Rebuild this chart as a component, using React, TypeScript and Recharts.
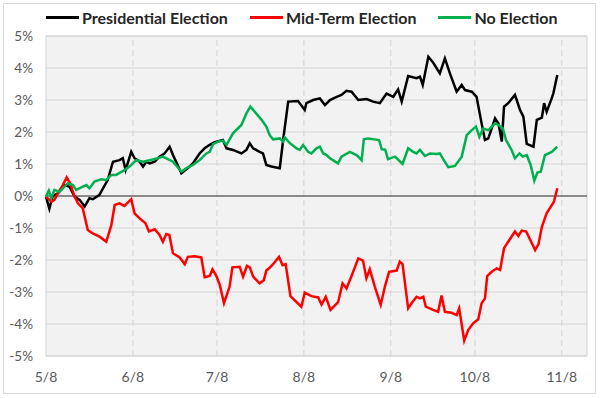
import { LineChart, Line, XAxis, YAxis, ReferenceLine, ReferenceArea } from "recharts";

// x = calendar days after 5/8, y = cumulative return in %
const presDays = [0, 1.2, 2.4, 4.2, 6.6, 8.4, 10.2, 12, 13.8, 15.5, 16.7, 19, 22, 23.9, 26.2, 27.4, 28.4, 30.4, 31.6, 33.4, 34.6, 35.8, 37, 38.8, 40.5, 42.3, 44.1, 45.3, 48.3, 50.6, 52.4, 54.8, 56.6, 58.4, 60.2, 63.1, 64.4, 66.7, 69.7, 71.5, 72.7, 73.9, 76.2, 77.4, 78.6, 80.4, 83.4, 84.6, 86.4, 89.9, 92.3, 92.9, 95.3, 97.7, 99.5, 101.3, 103.7, 105.4, 107.2, 109, 111.4, 114.4, 116.7, 119.1, 121.5, 123.9, 125.6, 126.9, 129.2, 132.2, 133.4, 134.4, 136.4, 138.1, 140.5, 142.3, 144.1, 146.5, 148.3, 149.5, 151.9, 153.6, 155.4, 156.6, 157.8, 160.2, 161.4, 162.6, 163.4, 164.9, 167.3, 169.1, 170.3, 171.5, 173.9, 175.1, 176.9, 177.7, 178.6, 180.4, 181, 182.4];
const presVals = [-0.02, -0.4, 0, 0.08, 0.34, 0.29, -0.02, -0.12, -0.33, -0.07, -0.1, 0.03, 0.5, 1.07, 1.12, 1.18, 0.81, 1.38, 1.18, 1.07, 0.92, 1.07, 1.02, 1.07, 1.23, 1.33, 1.54, 1.28, 0.71, 0.87, 1.02, 1.33, 1.49, 1.6, 1.68, 1.75, 1.49, 1.44, 1.33, 1.44, 1.65, 1.49, 1.38, 1.33, 0.97, 0.92, 0.87, 1.75, 2.95, 2.97, 2.69, 2.9, 3.0, 3.05, 2.84, 3.0, 3.1, 3.16, 3.29, 3.26, 3.0, 3.03, 2.95, 2.9, 3.2, 3.1, 3.33, 2.95, 3.75, 3.68, 3.73, 3.47, 4.35, 4.17, 3.83, 4.3, 3.83, 3.26, 3.47, 3.31, 3.26, 3.1, 2.27, 1.75, 1.8, 2.43, 2.27, 1.7, 2.79, 2.9, 3.16, 2.69, 2.48, 1.63, 1.54, 2.38, 2.45, 2.9, 2.63, 3.05, 3.21, 3.78];

const midDays = [0, 1.9, 3, 4.2, 6, 7.4, 8.6, 10.2, 11.4, 13.1, 14.9, 16.7, 19.1, 21.5, 23.3, 24.5, 26.2, 28, 30.4, 31.6, 33.4, 35.5, 36.7, 38.8, 40.5, 41.7, 42.9, 44, 45.3, 47.7, 49.5, 50.6, 53, 55.4, 56.6, 58.4, 59.4, 60.8, 62, 63.5, 65.5, 66.5, 69.1, 70.3, 71.7, 72.7, 73.9, 76.2, 77.7, 78.6, 79.6, 81, 83.1, 84.4, 85.5, 87.2, 91.1, 92.3, 94.7, 97.1, 98.3, 99.8, 101.5, 104.2, 105.8, 107.2, 109, 111.4, 113.1, 114.3, 115.5, 117.3, 119.4, 120.9, 122.4, 125.1, 126.2, 127.2, 129.2, 130.4, 132.2, 133.4, 134.6, 135.5, 138.1, 139.9, 141.1, 142.3, 144.7, 146.5, 147.4, 149.2, 150.6, 152.4, 154.2, 155.4, 156.6, 157.4, 159, 160.8, 162, 163.4, 164.9, 167.3, 168.5, 169.7, 171.3, 174.5, 175.7, 176.9, 178.6, 181.2, 182.4];
const midVals = [-0.02, -0.18, -0.12, 0.08, 0.34, 0.58, 0.4, -0.02, -0.23, -0.38, -1.06, -1.17, -1.27, -1.43, -0.91, -0.28, -0.23, -0.31, -0.1, -0.54, -0.7, -0.85, -1.11, -1.04, -1.22, -1.43, -1.19, -1.22, -1.79, -1.92, -2.13, -1.9, -1.88, -1.92, -2.54, -2.5, -2.29, -2.5, -2.78, -3.35, -2.83, -2.23, -2.21, -2.52, -2.18, -2.23, -2.52, -2.73, -2.63, -2.33, -2.26, -2.13, -1.9, -2.16, -2.13, -3.13, -3.46, -3.02, -3.13, -3.17, -3.39, -3.15, -3.56, -3.32, -2.73, -2.89, -2.5, -1.95, -2.02, -2.57, -2.29, -2.83, -3.4, -2.83, -2.37, -2.33, -2.05, -2.13, -3.51, -3.35, -3.15, -3.2, -3.15, -3.46, -3.56, -3.62, -3.11, -3.62, -3.65, -3.72, -3.51, -4.52, -4.19, -3.98, -3.85, -3.35, -3.2, -2.5, -2.37, -2.26, -2.31, -1.63, -1.43, -1.11, -1.25, -1.08, -1.11, -1.69, -1.5, -0.96, -0.54, -0.18, 0.24];

const noDays = [0, 1, 1.9, 3, 4.8, 6, 7.8, 9.6, 10.8, 12.6, 14.4, 15.5, 17.3, 19.7, 21.5, 23.3, 25, 28, 29.8, 32.2, 34.6, 37, 39.9, 41.7, 43.5, 45.3, 48.3, 50.1, 52.4, 54.8, 57.2, 58.4, 59.6, 61.4, 63.1, 64.4, 66.7, 69.7, 71.5, 72.9, 74.5, 76.9, 78.6, 79.8, 81, 83.4, 84.6, 85.2, 87, 89.4, 90.5, 91.7, 93.5, 94.7, 96.5, 97.7, 98.9, 100.1, 101.3, 104.2, 105.4, 108.4, 110.8, 112.6, 113.4, 114.9, 118.8, 119.8, 121, 122, 124.5, 127.2, 129.2, 131, 132.2, 133.4, 135.2, 137, 139.4, 140.5, 141.7, 143.5, 145.9, 148.3, 150.1, 151.9, 153.4, 154.6, 156, 157.8, 160.2, 161.4, 163, 164.1, 166.1, 167.3, 168.9, 170.1, 171.5, 172.9, 174.2, 175.3, 176.5, 178, 180.4, 182.4];
const noVals = [-0.02, 0.17, -0.07, 0.19, 0.13, 0.24, 0.4, 0.34, 0.19, 0.27, 0.34, 0.24, 0.45, 0.52, 0.5, 0.66, 0.66, 0.81, 0.92, 1.12, 1.07, 1.12, 1.18, 1.23, 1.15, 1.07, 0.76, 0.87, 0.97, 1.12, 1.33, 1.38, 1.62, 1.7, 1.73, 1.6, 1.96, 2.22, 2.58, 2.79, 2.63, 2.38, 2.17, 1.9, 1.77, 1.8, 1.7, 1.83, 1.65, 1.49, 1.44, 1.59, 1.38, 1.33, 1.49, 1.54, 1.33, 1.28, 1.18, 1.02, 1.23, 1.38, 1.28, 1.12, 1.77, 1.8, 1.75, 1.46, 1.45, 1.15, 1.23, 1.0, 1.49, 1.38, 1.33, 1.44, 1.25, 1.33, 1.31, 1.33, 1.15, 0.9, 0.94, 1.23, 1.9, 2.06, 2.17, 1.85, 2.11, 2.06, 2.27, 2.22, 2.11, 1.75, 1.44, 1.18, 1.33, 1.23, 1.28, 0.97, 0.48, 0.73, 0.76, 1.28, 1.38, 1.54];

const xTicks = [0, 31, 61, 92, 123, 153, 184];
const xTickLabels = ["5/8", "6/8", "7/8", "8/8", "9/8", "10/8", "11/8"];
const yTicks = [-5, -4, -3, -2, -1, 0, 1, 2, 3, 4, 5];

const series = [
  { name: "Presidential Election", color: "#000000", days: presDays, vals: presVals },
  { name: "Mid-Term Election", color: "#FF0000", days: midDays, vals: midVals },
  { name: "No Election", color: "#00B050", days: noDays, vals: noVals },
];

const font = "Lato, 'Open Sans', sans-serif";

export default function App() {
  return (
    <div style={{ position: "absolute", left: 0, top: 0, width: 600, height: 398, background: "#fff", fontFamily: font }}>
      <div style={{ position: "absolute", left: 3, top: 3, width: 591, height: 389, border: "1px solid #D9D9D9" }} />
      <div style={{ position: "absolute", left: 46, top: 8, display: "flex", alignItems: "center", fontSize: 16, fontWeight: 700, color: "#262626" }}>
        {series.map((s) => (
          <div key={s.name} style={{ display: "flex", alignItems: "center", marginRight: 22 }}>
            <span style={{ display: "inline-block", width: 33, height: 2.5, background: s.color, marginRight: 3 }} />
            <span>{s.name}</span>
          </div>
        ))}
      </div>
      <LineChart
        width={600}
        height={398}
        margin={{ top: 36, right: 13, bottom: 12, left: 6 }}
        style={{ position: "absolute", left: 0, top: 0 }}
      >
        <ReferenceArea x1={0} x2={193} y1={-5} y2={5} fill="#F2F2F2" fillOpacity={1} stroke="#D0D0D0" />
        {yTicks.map((t) => (
          <ReferenceLine key={"h" + t} y={t} stroke="#D6D6D6" strokeWidth={1} />
        ))}
        {xTicks.slice(1).map((t) => (
          <ReferenceLine key={"v" + t} x={t} stroke="#D3D3D3" strokeDasharray="6 4" />
        ))}
        <XAxis
          type="number"
          dataKey="d"
          domain={[0, 193]}
          ticks={xTicks}
          tickFormatter={(v) => xTickLabels[xTicks.indexOf(v)]}
          axisLine={false}
          tickLine={false}
          height={30}
          tickMargin={10}
          tick={{ fill: "#595959", fontSize: 14, fontFamily: font }}
          allowDuplicatedCategory={false}
        />
        <YAxis
          type="number"
          domain={[-5, 5]}
          ticks={yTicks}
          tickFormatter={(v) => `${v}%`}
          axisLine={false}
          tickLine={false}
          width={40}
          tickSize={0}
          tickMargin={13}
          tick={{ fill: "#595959", fontSize: 13.5, fontFamily: font }}
        />
        <ReferenceLine y={0} stroke="#303030" strokeWidth={1.2} />
        {series.map((s) => (
          <Line
            key={s.name}
            data={s.days.map((d, i) => ({ d, v: s.vals[i] }))}
            dataKey="v"
            name={s.name}
            type="linear"
            stroke={s.color}
            strokeWidth={2.5}
            dot={false}
            isAnimationActive={false}
          />
        ))}
      </LineChart>
    </div>
  );
}
